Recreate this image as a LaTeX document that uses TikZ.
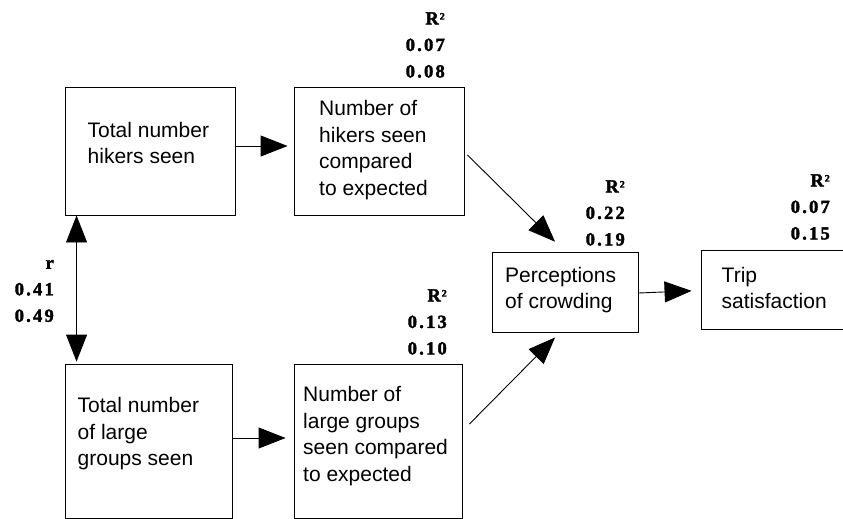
\documentclass[tikz,border=0pt]{standalone}
\usepackage{fontspec}
\setmainfont{Liberation Sans}
\newfontfamily\labfont[LetterSpace=12, BoldFeatures={FakeBold=2}]{Liberation Serif}
\usetikzlibrary{arrows.meta}
\newcommand\Rsq{R\hspace{1pt}\raisebox{4.8pt}{\fontsize{10}{10}\selectfont 2}}
\begin{document}
\begin{tikzpicture}[x=1pt,y=-1pt,
  box/.style={draw=black, line width=0.9pt, inner sep=0pt, rectangle},
  txt/.style={anchor=west, inner sep=0pt, align=left, font=\fontsize{21}{26.5}\selectfont},
  lab/.style={anchor=east, inner sep=0pt, align=right, font=\labfont\bfseries\fontsize{18.5}{26.5}\selectfont},
  arr/.style={-{Triangle[length=27pt,width=21pt]}, line width=0.9pt},
  darr/.style={{Triangle[length=27pt,width=21pt]}-{Triangle[length=27pt,width=21pt]}, line width=0.9pt}]
\useasboundingbox (0,0) rectangle (843,519);
% boxes
\node[box, minimum width=170pt, minimum height=128pt] (A) at (150,151) {};
\node[box, minimum width=170pt, minimum height=128pt] (B) at (379,151) {};
\node[box, minimum width=167pt, minimum height=154pt] (C) at (148.5,441) {};
\node[box, minimum width=168pt, minimum height=154pt] (D) at (378,441) {};
\node[box, minimum width=146pt, minimum height=80pt] (E) at (565,292) {};
\node[box, minimum width=144pt, minimum height=79pt] (F) at (773,289.5) {};
% box texts
\node[txt] (At) at (87.5,143) {Total number\\hikers seen};
\node[txt] (Bt) at (319,150) {Number of\\hikers seen\\compared\\to expected};
\node[txt] (Ct) at (77.5,433.6) {Total number\\of large\\groups seen};
\node[txt] (Dt) at (303,436) {Number of\\large groups\\seen compared\\to expected};
\node[txt] (Et) at (505,290) {Perceptions\\of crowding};
\node[txt] (Ft) at (721.5,288) {Trip\\satisfaction};
% labels
\node[lab] (Bl) at (445,45) {\Rsq\\0.07\\0.08};
\node[lab] (Dl) at (447,322) {\Rsq\\0.13\\0.10};
\node[lab] (El) at (625,213) {\Rsq\\0.22\\0.19};
\node[lab] (Fl) at (830,207) {\Rsq\\0.07\\0.15};
\node[lab] (rl) at (54,291) {r\\0.41\\0.49};
% connectors
\draw[arr, shorten >=6pt] ([yshift=5pt]A.east) -- ([yshift=5pt]B.west);
\draw[arr, shorten >=8pt] ([yshift=3pt]C.east) -- ([yshift=3pt]D.west);
\draw[darr, shorten >=2pt] ([xshift=12pt]A.south west) -- ([xshift=12pt]C.north west);
\draw[arr, shorten >=14pt] ([xshift=3pt,yshift=-4pt]B.east) -- (E.north);
\draw[arr, shorten >=7pt] ([xshift=7pt,yshift=17pt]D.east) -- ([xshift=-5pt]E.south);
\draw[arr, shorten >=9pt] ([yshift=-1pt]E.east) -- ([yshift=-1pt]F.west);
\end{tikzpicture}
\end{document}
